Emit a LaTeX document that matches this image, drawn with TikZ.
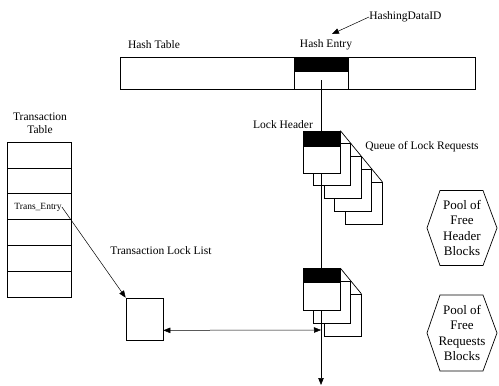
\documentclass[tikz,border=0pt]{standalone}
\usepackage{fontspec}
\setmainfont{Liberation Serif}
\usetikzlibrary{arrows.meta,calc}
\begin{document}
\begin{tikzpicture}[x=1pt,y=-1pt,line width=0.7pt,
  lbl/.style={inner sep=0pt,font=\fontsize{11.5}{13.5}\selectfont},
  hexlbl/.style={inner sep=0pt,align=center,font=\fontsize{13}{15.5}\selectfont},
  small/.style={inner sep=0pt,font=\fontsize{9.5}{11}\selectfont},
  cell/.style={draw,fill=white,inner sep=0pt,minimum width=64pt,minimum height=25.9pt},
  blk/.style={draw,fill=white,inner sep=0pt,minimum width=37pt,minimum height=42pt},
  tip/.style={-{Triangle[length=7pt,width=5.5pt]}},
  tips/.style={{Triangle[length=7pt,width=5.5pt]}-{Triangle[length=7pt,width=5.5pt]}}]
\useasboundingbox (0,0) rectangle (499,386);

% Hash table
\node[draw,inner sep=0pt,minimum width=355pt,minimum height=32pt] (ht) at (297.5,73) {};
\node[draw,fill=white,inner sep=0pt,minimum width=54pt,minimum height=32pt] (he) at (321,73) {};
\fill (he.north west) rectangle ($(he.north east)+(0,15)$);
\node[lbl] (htl) at (154,45) {Hash Table};
\node[lbl] (hel) at (326,45) {Hash Entry};
\node[lbl,anchor=west] (hd) at (369,17) {HashingDataID};
\coordinate (hdt) at (332,34);
\draw[tip,line width=0.5pt] (hd.west) -- (hdt);

% Queue of lock requests (first group)
\foreach \k in {4,3,2,1} {
  \node[blk] (qa\k) at ({321.5+10.5*\k},{152+12.8*\k}) {};
}
% Second group
\foreach \k in {2,1} {
  \node[blk] (qb\k) at ({321.5+10.5*\k},{289.5+12.8*\k}) {};
}

% Main vertical chain
\coordinate (vs) at (321,80);
\coordinate (ve) at (321,385);
\draw[tip] (vs) -- (ve);

% Lock headers
\node[blk] (lh1) at (321.5,152) {};
\fill (lh1.north west) rectangle ($(lh1.north east)+(0,16)$);
\node[blk] (lh2) at (321.5,289.5) {};
\fill (lh2.north west) rectangle ($(lh2.north east)+(0,15)$);
\draw (lh1.north east) -- (qa4.north east);
\draw (lh2.north east) -- (qb2.north east);

\node[lbl] (lhl) at (283,125) {Lock Header};
\node[lbl] (ql) at (422,147) {Queue of Lock Requests};

% Transaction table
\node[lbl,align=center] (ttl) at (40,123) {Transaction\\Table};
\foreach \i in {1,...,6} {
  \node[cell] (r\i) at (39,{142+25.9*(\i-0.5)}) {};
}
\node[small] (te) at (38,207) {Trans\_Entry};

% Transaction lock list
\node[draw,inner sep=0pt,minimum width=37pt,minimum height=42pt] (tl) at (144.5,319) {};
\node[lbl] (tll) at (161,251) {Transaction Lock List};
\draw[tip,line width=0.5pt] (te.east) -- (tl.north west);
\coordinate (jn) at (321,330);
\draw[tips,line width=0.5pt] ($(tl.south east)+(0,-10)$) -- (jn);

% Pools
\node[hexlbl] (p1) at (462,228) {Pool of\\Free\\Header\\Blocks};
\draw (p1.center) ++(-35,0) -- ++(13,-37.5) -- ++(43,0) -- ++(14,37.5) -- ++(-14,37.5) -- ++(-43,0) -- cycle;
\node[hexlbl] (p2) at (462,333) {Pool of\\Free\\Requests\\Blocks};
\draw (p2.center) ++(-35,0) -- ++(13,-38) -- ++(43,0) -- ++(14,38) -- ++(-14,38) -- ++(-43,0) -- cycle;
\end{tikzpicture}
\end{document}
